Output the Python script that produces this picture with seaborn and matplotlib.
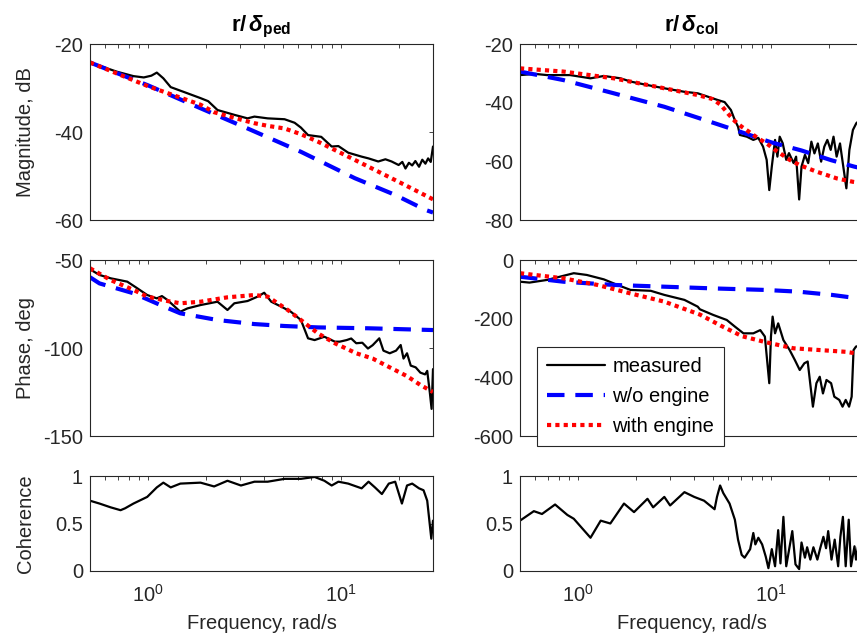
import numpy as np
import pandas as pd
import matplotlib
matplotlib.use("Agg")
import matplotlib.pyplot as plt
from matplotlib.ticker import LogLocator, NullFormatter, FixedLocator
import seaborn as sns

# ---------------- data ----------------
# Left column: r / delta_ped
ped_mag_meas_f = [0.5, 0.69, 0.84, 0.95, 1.04, 1.11, 1.2, 1.31, 1.6, 1.87, 2.05, 2.29, 2.8, 3.28, 3.56,
                  4.17, 5.1, 5.75, 6.2, 6.75, 7.9, 8.95, 9.7, 10.9, 12.8, 13.9, 15.6, 17.0, 18.3, 19.9,
                  20.8, 21.6, 22.5, 23.4, 24.3, 25.4, 26.4, 27.4, 28.3, 29.2, 30.0]
ped_mag_meas = [-24.2, -26.3, -27.3, -27.6, -27.2, -26.5, -27.8, -29.8, -31.2, -32.3, -33.0, -35.0, -36.1,
                -36.9, -36.5, -36.9, -37.1, -37.9, -39.0, -40.7, -41.1, -43.3, -43.2, -44.7, -45.6, -46.0,
                -46.7, -46.2, -46.7, -47.5, -46.8, -48.3, -47.0, -47.6, -46.6, -47.9, -46.3, -47.2, -46.0,
                -46.8, -43.3]
ped_mag_wo_f = [0.5, 1.0, 1.87, 3.28, 6.2, 11.8, 19.1, 27.4, 30.0]
ped_mag_wo = [-24.2, -29.4, -34.6, -39.2, -44.5, -50.5, -54.3, -57.7, -58.3]
ped_mag_with_f = [0.5, 1.0, 1.87, 2.2, 2.8, 3.56, 4.17, 5.1, 6.2, 7.6, 9.3, 13.9, 20.7, 30.0]
ped_mag_with = [-24.2, -29.6, -33.8, -35.5, -36.8, -38.0, -38.6, -39.2, -40.5, -42.2, -44.1, -47.9,
                -51.7, -55.3]

ped_ph_meas_f = [0.5, 0.56, 0.64, 0.78, 0.88, 0.99, 1.11, 1.18, 1.26, 1.47, 1.6, 1.87, 2.29, 2.58, 2.8,
                 3.28, 3.7, 4.0, 4.35, 4.9, 5.5, 6.2, 6.75, 7.3, 8.2, 9.3, 9.85, 10.7, 11.3, 12.0, 12.9,
                 13.8, 14.6, 15.8, 16.6, 17.9, 19.3, 20.4, 21.1, 22.0, 23.0, 24.4, 25.8, 27.3, 28.0,
                 28.9, 29.5, 30.0]
ped_ph_meas = [-55.3, -58.5, -60.4, -62.3, -66.1, -69.9, -71.8, -70.5, -72.7, -79.4, -77.5, -75.6, -73.7,
               -78.4, -74.6, -73.3, -70.8, -68.6, -73.7, -76.5, -79.4, -84.1, -94.5, -95.5, -93.6, -96.4,
               -96.4, -95.5, -94.6, -97.3, -97.0, -100.3, -98.4, -94.5, -101.5, -103.0, -101.5, -98.3,
               -106.0, -103.0, -110.0, -111.0, -114.0, -115.0, -113.0, -125.5, -134.6, -112.0]
ped_ph_wo_f = [0.5, 0.56, 0.84, 1.16, 1.47, 2.29, 3.56, 5.1, 7.6, 13.9, 30.0]
ped_ph_wo = [-59.8, -63.3, -68.9, -75.6, -80.3, -84.1, -86.4, -87.5, -88.3, -88.8, -89.8]
ped_ph_with_f = [0.5, 0.64, 0.84, 0.99, 1.26, 1.47, 1.87, 2.58, 3.56, 4.17, 4.7, 5.3, 6.2, 7.6, 9.3,
                 12.0, 14.6, 17.9, 22.0, 25.8, 30.0]
ped_ph_with = [-54.7, -61.4, -67.0, -70.8, -73.3, -74.6, -73.7, -71.2, -69.9, -70.8, -74.6, -78.4,
               -84.1, -91.7, -97.3, -103.0, -106.0, -111.0, -116.0, -121.0, -125.0]

ped_coh_f = [0.5, 0.56, 0.64, 0.72, 0.76, 0.84, 0.99, 1.11, 1.2, 1.31, 1.47, 1.87, 2.2, 2.58, 3.03,
             3.56, 4.17, 5.1, 6.2, 7.3, 8.2, 8.95, 9.7, 10.9, 12.8, 13.9, 15.0, 16.3, 17.7, 19.1, 20.7,
             22.0, 23.4, 25.4, 26.8, 28.0, 29.4, 30.0]
ped_coh = [0.74, 0.71, 0.67, 0.64, 0.66, 0.71, 0.78, 0.88, 0.93, 0.88, 0.92, 0.93, 0.89, 0.95, 0.90,
           0.94, 0.94, 0.97, 0.97, 0.99, 0.95, 0.90, 0.94, 0.92, 0.87, 0.94, 0.88, 0.81, 0.92, 0.94,
           0.71, 0.90, 0.92, 0.87, 0.85, 0.74, 0.34, 0.53]

# Right column: r / delta_col
col_mag_meas_f = [0.5, 0.6, 0.69, 0.91, 1.16, 1.36, 1.66, 1.87, 2.29, 2.8, 3.56, 4.17, 5.3, 5.75, 6.2,
                  6.5, 6.75, 6.9, 7.5, 8.1, 8.6, 9.1, 9.5, 9.8, 10.1, 10.5, 10.8, 11.1, 11.5, 12.0, 12.4,
                  13.1, 13.5, 14.0, 14.4, 15.0, 15.6, 16.2, 16.8, 17.5, 18.2, 18.9, 19.6, 20.4, 21.1,
                  21.9, 22.8, 24.6, 25.5, 26.6, 27.7, 30.0]
col_mag_meas = [-30.6, -30.2, -30.6, -30.6, -31.7, -30.9, -31.7, -32.8, -34.0, -35.1, -36.3, -36.8,
                -39.1, -39.8, -42.5, -46.0, -48.2, -51.0, -51.6, -52.7, -52.0, -55.0, -59.5, -69.8,
                -61.8, -52.7, -58.4, -51.6, -53.8, -59.5, -57.2, -60.6, -58.4, -73.0, -61.8, -57.8,
                -60.6, -53.3, -57.3, -53.9, -60.1, -55.0, -52.7, -56.1, -51.6, -58.4, -53.9, -69.2,
                -56.1, -49.3, -47.0, -45.0]
col_mag_wo_f = [0.5, 0.84, 1.53, 2.8, 5.1, 6.5, 10.0, 14.4, 20.5, 27.0, 30.0]
col_mag_wo = [-29.4, -32.3, -36.8, -41.4, -47.0, -49.3, -53.5, -56.3, -59.6, -61.8, -62.5]
col_mag_with_f = [0.5, 0.84, 1.53, 2.8, 4.17, 5.0, 5.5, 6.0, 6.5, 7.05, 7.8, 8.6, 9.5, 10.5, 12.5,
                  14.1, 17.2, 21.9, 26.7, 30.0]
col_mag_with = [-28.3, -29.4, -31.7, -35.1, -37.4, -38.8, -40.8, -43.8, -46.3, -48.2, -50.2, -52.2,
                -53.9, -56.1, -59.5, -61.3, -63.5, -65.8, -67.0, -67.5]

col_ph_meas_f = [0.5, 0.56, 0.69, 0.95, 1.11, 1.36, 1.6, 1.87, 2.38, 2.8, 3.56, 4.17, 4.28, 5.03, 5.9,
                 6.5, 7.2, 8.1, 8.8, 9.3, 9.8, 10.0, 10.2, 10.5, 10.9, 11.6, 12.5, 13.3, 14.1, 14.9,
                 15.5, 16.5, 17.2, 17.9, 18.6, 19.4, 20.5, 21.3, 22.6, 23.5, 24.4, 25.4, 26.2, 26.8,
                 27.6, 30.0]
col_ph_meas = [-74, -77, -68, -45, -51, -66, -85, -102, -105, -119, -136, -159, -168, -187.5, -204.5,
               -227, -250, -250, -239, -261, -420, -261, -193, -250, -216, -273, -307, -341, -375,
               -352, -346, -500, -420, -398, -455, -409, -420, -466, -477, -500, -477, -500, -466,
               -307, -295, -290]
col_ph_wo_f = [0.5, 0.84, 1.53, 2.8, 5.1, 9.3, 13.9, 20.7, 28.5, 30.0]
col_ph_wo = [-57, -74, -85, -91, -97, -102, -108, -119, -131, -134]
col_ph_with_f = [0.5, 0.84, 1.26, 1.87, 2.8, 4.28, 5.5, 7.1, 9.5, 13.1, 17.9, 24.4, 30.0]
col_ph_with = [-45, -62.5, -85, -114, -142, -186, -224, -260, -281, -301, -307, -313, -322]

col_coh_f = [0.5, 0.59, 0.65, 0.76, 0.88, 0.95, 1.16, 1.31, 1.47, 1.73, 1.95, 2.29, 2.45, 2.8, 3.0,
             3.56, 4.0, 4.5, 5.1, 5.25, 5.45, 5.66, 6.1, 6.5, 6.75, 7.05, 7.3, 7.8, 8.1, 8.3, 8.6,
             9.0, 9.4, 9.7, 10.1, 10.5, 10.9, 11.2, 11.6, 12.0, 12.5, 12.9, 13.4, 14.0, 14.4, 15.0,
             15.4, 16.0, 16.6, 17.4, 18.0, 18.7, 19.3, 19.8, 20.6, 21.4, 22.3, 22.9, 23.6, 24.4,
             25.3, 26.0, 27.1, 27.6, 28.5, 30.0]
col_coh = [0.53, 0.63, 0.60, 0.70, 0.59, 0.55, 0.35, 0.53, 0.50, 0.71, 0.62, 0.76, 0.67, 0.78, 0.69,
           0.83, 0.78, 0.74, 0.65, 0.78, 0.90, 0.82, 0.71, 0.54, 0.33, 0.17, 0.14, 0.23, 0.40, 0.28,
           0.35, 0.28, 0.15, 0.03, 0.23, 0.05, 0.43, 0.08, 0.57, 0.05, 0.26, 0.42, 0.07, 0.02, 0.30,
           0.14, 0.25, 0.12, 0.25, 0.12, 0.24, 0.36, 0.24, 0.42, 0.12, 0.33, 0.05, 0.36, 0.57, 0.05,
           0.54, 0.05, 0.26, 0.12, 0.30, 0.20]

titles = [r"r/$\,\mathbfit{\delta}_{\mathbf{ped}}$", r"r/$\,\mathbfit{\delta}_{\mathbf{col}}$"]
row_labels = ["Magnitude, dB", "Phase, deg", "Coherence"]
series_labels = ["measured", "w/o engine", "with engine"]
xlabel = "Frequency, rad/s"

# ---------------- style ----------------
sns.set_theme(style="white")
plt.rcParams["font.family"] = ["Liberation Sans", "DejaVu Sans"]
plt.rcParams["axes.unicode_minus"] = False
plt.rcParams["mathtext.fontset"] = "custom"
plt.rcParams["mathtext.rm"] = "Liberation Sans"
plt.rcParams["mathtext.bf"] = "Liberation Sans:bold"
plt.rcParams["mathtext.it"] = "Liberation Sans:italic"
plt.rcParams["mathtext.bfit"] = "Liberation Sans:italic:bold"

FS = 14.5
DARK = "#262626"
W, H = 857, 640
fig = plt.figure(figsize=(W / 100, H / 100), dpi=100)

col_left = [90 / W, 520 / W]
ax_w = 343 / W
rows = [(220, 176), (436, 176), (571, 95)]  # (bottom px from top, height px)

def mk_df(f, v):
    return pd.DataFrame({"f": f, "v": v})

styles = {
    "meas": dict(color="black", linewidth=1.6, linestyle="-"),
    "wo": dict(color=(0, 0, 1), linewidth=3.0, linestyle=(0, (4.2, 2.6))),
    "with": dict(color=(1, 0, 0), linewidth=3.0, linestyle=(0, (1, 1.0))),
}

data = [
    [  # left column
        [("meas", ped_mag_meas_f, ped_mag_meas), ("wo", ped_mag_wo_f, ped_mag_wo),
         ("with", ped_mag_with_f, ped_mag_with)],
        [("meas", ped_ph_meas_f, ped_ph_meas), ("wo", ped_ph_wo_f, ped_ph_wo),
         ("with", ped_ph_with_f, ped_ph_with)],
        [("meas", ped_coh_f, ped_coh)],
    ],
    [  # right column
        [("meas", col_mag_meas_f, col_mag_meas), ("wo", col_mag_wo_f, col_mag_wo),
         ("with", col_mag_with_f, col_mag_with)],
        [("meas", col_ph_meas_f, col_ph_meas), ("wo", col_ph_wo_f, col_ph_wo),
         ("with", col_ph_with_f, col_ph_with)],
        [("meas", col_coh_f, col_coh)],
    ],
]

ylims = [[(-60, -20), (-150, -50), (0, 1)], [(-80, -20), (-600, 0), (0, 1)]]
yticks = [[[-60, -40, -20], [-150, -100, -50], [0, 0.5, 1]],
          [[-80, -60, -40, -20], [-600, -400, -200, 0], [0, 0.5, 1]]]
yticklabels = [[["-60", "-40", "-20"], ["-150", "-100", "-50"], ["0", "0.5", "1"]],
               [["-80", "-60", "-40", "-20"], ["-600", "-400", "-200", "0"], ["0", "0.5", "1"]]]

legend_ax = None
for c in range(2):
    for r in range(3):
        bpx, hpx = rows[r]
        ax = fig.add_axes([col_left[c], 1 - bpx / H, ax_w, hpx / H])
        for key, f, v in data[c][r]:
            lab = None
            if c == 1 and r == 1:
                lab = {"meas": series_labels[0], "wo": series_labels[1], "with": series_labels[2]}[key]
            sns.lineplot(data=mk_df(f, v), x="f", y="v", ax=ax, estimator=None, sort=False,
                         label=lab, legend=False, **styles[key])
        ax.set_xscale("log")
        ax.set_xlim(0.5, 30)
        ax.set_ylim(*ylims[c][r])
        ax.yaxis.set_major_locator(FixedLocator(yticks[c][r]))
        ax.set_yticklabels(yticklabels[c][r])
        ax.xaxis.set_major_locator(LogLocator(base=10, numticks=10))
        ax.xaxis.set_minor_locator(LogLocator(base=10, subs=np.arange(2, 10), numticks=20))
        ax.xaxis.set_minor_formatter(NullFormatter())
        ax.tick_params(axis="both", which="both", direction="in", top=True, right=True,
                       length=3.2, width=0.6, colors=DARK, labelsize=FS, labelcolor=DARK)
        ax.tick_params(axis="y", which="major", pad=5)
        ax.tick_params(axis="x", which="major", pad=9)
        for sp in ax.spines.values():
            sp.set_color(DARK)
            sp.set_linewidth(0.8)
        ax.set_ylabel(row_labels[r] if c == 0 else "", fontsize=FS, color=DARK)
        if c == 0:
            ax.yaxis.set_label_coords(-0.16, 0.5)
        if r == 2:
            ax.set_xlabel(xlabel, fontsize=FS, color=DARK, labelpad=6)
        else:
            ax.set_xlabel("")
            ax.set_xticklabels([])
        if r == 0:
            ax.set_title(titles[c], fontsize=16, fontweight="bold", color="black", pad=9)
        if c == 1 and r == 1:
            legend_ax = ax

handles, labels = legend_ax.get_legend_handles_labels()
leg = legend_ax.legend(handles, labels, loc="upper left",
                       bbox_to_anchor=(537 / W, 1 - 347 / H), bbox_transform=fig.transFigure,
                       frameon=True, fancybox=False, framealpha=1, edgecolor=DARK,
                       borderaxespad=0, handlelength=2.9, handletextpad=0.35,
                       labelspacing=0.55, borderpad=0.5, fontsize=FS)
leg.get_frame().set_linewidth(0.8)
for t in leg.get_texts():
    t.set_color("black")

fig.savefig("out.png", dpi=100, facecolor="white")
